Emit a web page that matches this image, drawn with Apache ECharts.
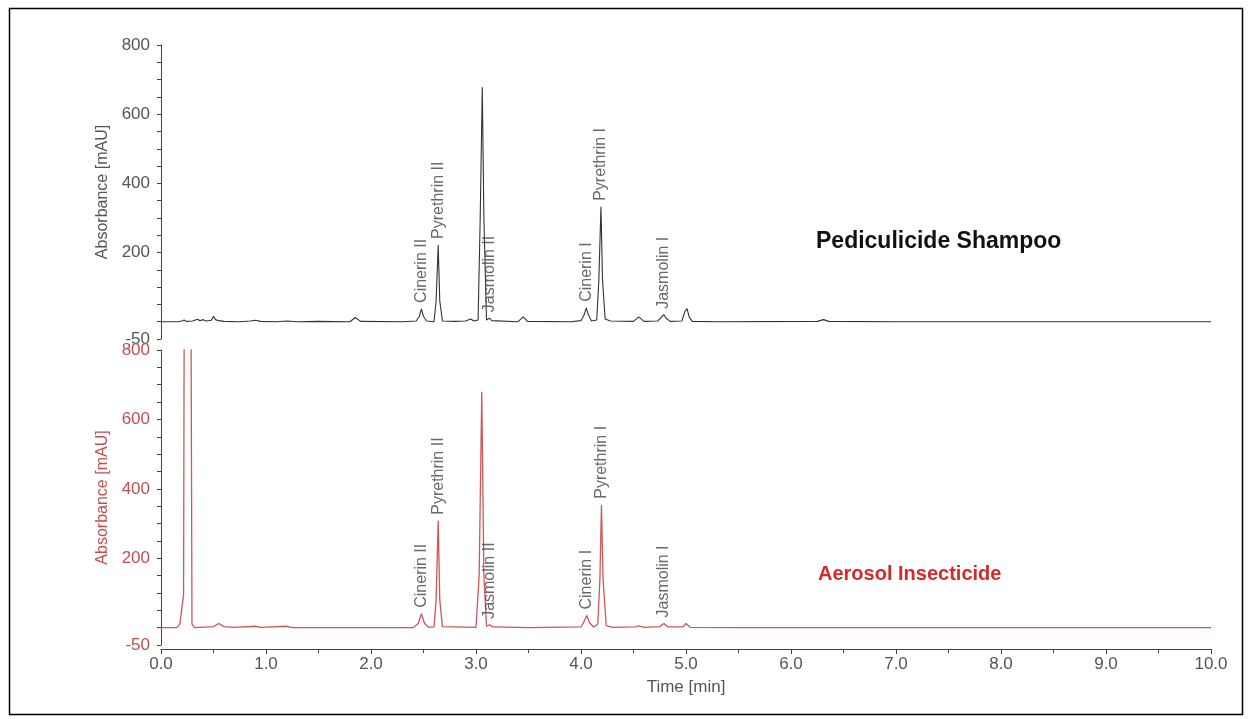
<!DOCTYPE html>
<html>
<head>
<meta charset="utf-8">
<script src="https://cdn.jsdelivr.net/npm/echarts@6/dist/echarts.min.js"></script>
<style>
html,body{margin:0;padding:0;background:#fff;}
#chart{width:1248px;height:719px;}
</style>
</head>
<body>
<div id="chart"></div>
<script>
// ---- Data (time [min], absorbance [mAU]) ----
var shampooTrace = [
  [0.00,0],[0.15,0],[0.20,2],[0.22,5],[0.24,1],[0.30,2],[0.35,7],[0.37,3],[0.40,6],[0.43,2],
  [0.48,4],[0.50,16],[0.52,6],[0.55,3],[0.60,1],[0.75,0],[0.85,2],[0.90,4],[0.95,1],[1.10,0],
  [1.20,2],[1.30,0],[1.50,1],[1.80,0],[1.85,12],[1.90,1],[2.30,0],[2.43,2],[2.46,15],[2.48,37],
  [2.50,15],[2.53,2],[2.60,0],[2.62,60],[2.64,222],[2.655,60],[2.68,2],[2.80,1],[2.90,2],[2.95,8],
  [2.98,2],[3.02,5],[3.04,300],[3.06,678],[3.075,300],[3.10,5],[3.13,10],[3.15,3],[3.40,0],[3.45,14],
  [3.49,1],[3.90,0],[4.00,3],[4.03,20],[4.05,40],[4.07,20],[4.10,2],[4.15,5],[4.17,120],[4.19,332],
  [4.205,120],[4.23,8],[4.28,2],[4.50,1],[4.55,14],[4.60,1],[4.73,2],[4.77,15],[4.79,20],[4.81,10],
  [4.85,1],[4.96,2],[4.99,30],[5.01,38],[5.03,14],[5.06,1],[5.30,0],[6.25,1],[6.31,6],[6.36,1],
  [7.00,0],[10.00,0]
];
var aerosolTrace = [
  [0.00,0],[0.15,0],[0.18,10],[0.20,60],[0.215,95],[0.225,1500],[0.28,1500],[0.295,10],[0.32,0],[0.50,3],
  [0.55,12],[0.60,3],[0.70,1],[0.90,4],[0.95,1],[1.20,4],[1.25,0],[2.40,0],[2.45,12],[2.48,40],
  [2.51,12],[2.55,1],[2.60,2],[2.62,80],[2.64,308],[2.655,80],[2.68,3],[3.00,1],[3.03,150],[3.055,680],
  [3.075,150],[3.10,4],[3.13,8],[3.16,2],[3.50,0],[4.00,2],[4.03,18],[4.055,35],[4.08,15],[4.12,2],
  [4.16,10],[4.18,140],[4.195,354],[4.21,140],[4.24,6],[4.30,1],[4.52,2],[4.55,5],[4.60,1],[4.75,3],
  [4.79,12],[4.83,2],[4.97,2],[5.00,12],[5.04,1],[5.50,0],[10.00,0]
];
var peakNames = ['Cinerin II','Pyrethrin II','Jasmolin II','Cinerin I','Pyrethrin I','Jasmolin I'];
var shampooPeakTimes   = [2.48, 2.64, 3.13, 4.05, 4.19, 4.79];
var shampooPeakHeights = [37, 222, 10, 40, 332, 20];
var aerosolPeakTimes   = [2.48, 2.64, 3.13, 4.055, 4.195, 4.79];
var aerosolPeakHeights = [40, 308, 8, 35, 354, 12];
var yTickLabels = [-50, 200, 400, 600, 800];
var sampleNames = ['Pediculicide Shampoo', 'Aerosol Insecticide'];
var yAxisTitle = 'Absorbance [mAU]';
var xAxisTitle = 'Time [min]';

// ---- Chart ----
var GRAY = '#555';
var RED_TXT = '#c0504f';
var RED_LINE = '#d0565a';
var FONT = 'Liberation Sans, Arial, sans-serif';

function labelData(times, heights) {
  return times.map(function (t, i) { return { value: [t, heights[i]], name: peakNames[i] }; });
}

function yAxisFor(grid, color) {
  return {
    type: 'value', gridIndex: grid, min: -50, max: 800, interval: 50, offset: 3,
    name: yAxisTitle, nameLocation: 'middle', nameGap: 47,
    nameTextStyle: { color: color, fontSize: 16, fontFamily: FONT },
    axisLine: { show: true, lineStyle: { color: '#444', width: 1 } },
    axisTick: { show: true, length: 4, lineStyle: { color: '#444' } },
    splitLine: { show: false },
    axisLabel: {
      color: color, fontSize: 17, fontFamily: FONT, margin: 8,
      showMinLabel: true, showMaxLabel: true,
      formatter: function (v) { return yTickLabels.indexOf(v) >= 0 ? String(v) : ''; }
    }
  };
}

function peakLabelSeries(x, y, times, heights, color) {
  return {
    type: 'scatter', xAxisIndex: x, yAxisIndex: y, symbolSize: 2,
    itemStyle: { color: 'rgba(0,0,0,0)' }, silent: true, z: 5,
    data: labelData(times, heights),
    labelLayout: { hideOverlap: false },
    label: {
      show: true, position: 'top', distance: 5, rotate: 90,
      align: 'left', verticalAlign: 'middle',
      color: color, fontSize: 16, fontFamily: FONT,
      formatter: function (p) { return p.name; }
    }
  };
}

var chart = echarts.init(document.getElementById('chart'), null, { renderer: 'canvas' });
chart.setOption({
  backgroundColor: '#fff',
  animation: false,
  grid: [
    { left: 161, width: 1050, top: 45, height: 294 },
    { left: 161, width: 1050, top: 350, height: 295 }
  ],
  xAxis: [
    { type: 'value', gridIndex: 0, min: 0, max: 10, interval: 1, show: false },
    {
      type: 'value', gridIndex: 1, min: 0, max: 10, interval: 1, offset: 4,
      name: xAxisTitle, nameLocation: 'middle', nameGap: 30,
      nameTextStyle: { color: GRAY, fontSize: 17, fontFamily: FONT },
      axisLine: { show: true, onZero: false, lineStyle: { color: '#444', width: 1 } },
      axisTick: { show: true, length: 5, lineStyle: { color: '#444' } },
      minorTick: { show: true, splitNumber: 2, length: 4, lineStyle: { color: '#444' } },
      splitLine: { show: false },
      axisLabel: {
        color: GRAY, fontSize: 17, fontFamily: FONT, margin: 7,
        showMinLabel: true, showMaxLabel: true,
        formatter: function (v) { return v.toFixed(1); }
      }
    }
  ],
  yAxis: [ yAxisFor(0, GRAY), yAxisFor(1, RED_TXT) ],
  series: [
    {
      type: 'line', xAxisIndex: 0, yAxisIndex: 0, data: shampooTrace,
      showSymbol: false, symbol: 'none', clip: true,
      lineStyle: { color: '#333', width: 1.1 }
    },
    {
      type: 'line', xAxisIndex: 1, yAxisIndex: 1, data: aerosolTrace,
      showSymbol: false, symbol: 'none', clip: true,
      lineStyle: { color: RED_LINE, width: 1.3 }
    },
    peakLabelSeries(0, 0, shampooPeakTimes, shampooPeakHeights, '#444'),
    peakLabelSeries(1, 1, aerosolPeakTimes, aerosolPeakHeights, '#444')
  ],
  graphic: [
    {
      type: 'rect', left: 7, top: 6, silent: true,
      shape: { width: 1233, height: 706 },
      style: { fill: 'none', stroke: '#000', lineWidth: 1.5 }
    },
    {
      type: 'text', left: 816, top: 230,
      style: { text: sampleNames[0], fill: '#111', font: 'bold 23px ' + FONT }
    },
    {
      type: 'text', left: 818, top: 564,
      style: { text: sampleNames[1], fill: '#d42a2a', font: 'bold 20px ' + FONT }
    }
  ]
});
</script>
</body>
</html>
